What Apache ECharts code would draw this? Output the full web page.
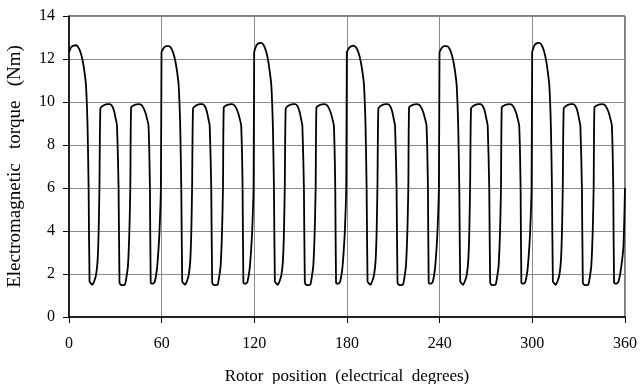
<!DOCTYPE html>
<html>
<head>
<meta charset="utf-8">
<script src="https://cdn.jsdelivr.net/npm/echarts@6/dist/echarts.min.js"></script>
<style>
html,body{margin:0;padding:0;background:#fff;}
#chart{width:643px;height:384px;}
</style>
</head>
<body>
<div id="chart"></div>
<script>
// Tick labels
const xTicks = [0, 60, 120, 180, 240, 300, 360];
const yTicks = [0, 2, 4, 6, 8, 10, 12, 14];
const xTitle = 'Rotor  position  (electrical  degrees)';
const yTitle = 'Electromagnetic   torque   (Nm)';

// Torque (Nm) vs rotor position (deg), one array per 60° span
const span0 = [[0,12.3],[0.4,12.4],[1.5,12.55],[3,12.62],[4.5,12.64],[6,12.55],[7.5,12.3],[8.8,11.94],[10,11.4],[11,10.78],[12,8.9],[12.7,6],[13.3,1.65],[14,1.58],[15.2,1.5],[16.5,1.7],[17.5,1.95],[18.5,2.6],[19.2,4],[19.7,6],[20.3,9.7],
[21.5,9.8],[23,9.87],[25,9.9],[26.5,9.9],[28,9.8],[29.3,9.55],[30.3,9.2],[31.1,8.9],[32.1,6],[32.7,1.6],[33.5,1.5],[35,1.48],[36.3,1.52],[37.3,1.9],[38.2,2.4],[39.1,4],[39.7,6],[40.2,9.75],
[41.5,9.83],[43,9.88],[45,9.9],[46.5,9.88],[48,9.75],[49.5,9.5],[50.6,9.2],[51.5,8.9],[52.4,6],[52.9,1.6],[53.7,1.55],[54.6,1.56],[55.6,1.65],[56.9,2.2],[57.8,3.0],[58.6,4],[59.5,6],[59.9,12.3]];
const span1 = [[60.4,12.4],[61.5,12.53],[63,12.6],[64.5,12.6],[66,12.52],[67.5,12.28],[68.8,11.92],[70,11.4],[71,10.78],[72,8.9],[72.7,6],[73.3,1.65],[74,1.58],[75.2,1.5],[76.5,1.7],[77.5,1.95],[78.5,2.6],[79.2,4],[79.7,6],[80.3,9.7],
[81.5,9.8],[83,9.87],[85,9.9],[86.5,9.9],[88,9.8],[89.3,9.55],[90.3,9.2],[91.1,8.9],[92.1,6],[92.7,1.6],[93.5,1.5],[95,1.48],[96.3,1.52],[97.3,1.9],[98.2,2.4],[99.1,4],[99.7,6],[100.2,9.75],
[101.5,9.83],[103,9.88],[105,9.9],[106.5,9.88],[108,9.75],[109.5,9.5],[110.6,9.2],[111.5,8.9],[112.4,6],[112.9,1.6],[113.7,1.55],[114.6,1.56],[115.6,1.65],[116.9,2.2],[117.8,3.0],[118.6,4],[119.5,6],[119.9,12.3]];
const span2 = [[120.4,12.45],[121.5,12.65],[123,12.74],[124.5,12.75],[126,12.65],[127.5,12.38],[128.8,11.98],[130,11.4],[131,10.78],[132,8.9],[132.7,6],[133.3,1.65],[134,1.58],[135.2,1.5],[136.5,1.7],[137.5,1.95],[138.5,2.6],[139.2,4],[139.7,6],[140.3,9.7],
[141.5,9.8],[143,9.87],[145,9.9],[146.5,9.9],[148,9.8],[149.3,9.55],[150.3,9.2],[151.1,8.9],[152.1,6],[152.7,1.6],[153.5,1.5],[155,1.48],[156.3,1.52],[157.3,1.9],[158.2,2.4],[159.1,4],[159.7,6],[160.2,9.75],
[161.5,9.83],[163,9.88],[165,9.9],[166.5,9.88],[168,9.75],[169.5,9.5],[170.6,9.2],[171.5,8.9],[172.4,6],[172.9,1.6],[173.7,1.55],[174.6,1.56],[175.6,1.65],[176.9,2.2],[177.8,3.0],[178.6,4],[179.5,6],[179.9,12.3]];
const span3 = [[180.4,12.4],[181.5,12.53],[183,12.6],[184.5,12.62],[186,12.52],[187.5,12.28],[188.8,11.92],[190,11.4],[191,10.78],[192,8.9],[192.7,6],[193.3,1.65],[194,1.58],[195.2,1.5],[196.5,1.7],[197.5,1.95],[198.5,2.6],[199.2,4],[199.7,6],[200.3,9.7],
[201.5,9.8],[203,9.87],[205,9.9],[206.5,9.9],[208,9.8],[209.3,9.55],[210.3,9.2],[211.1,8.9],[212.1,6],[212.7,1.6],[213.5,1.5],[215,1.48],[216.3,1.52],[217.3,1.9],[218.2,2.4],[219.1,4],[219.7,6],[220.2,9.75],
[221.5,9.83],[223,9.88],[225,9.9],[226.5,9.88],[228,9.75],[229.5,9.5],[230.6,9.2],[231.5,8.9],[232.4,6],[232.9,1.6],[233.7,1.55],[234.6,1.56],[235.6,1.65],[236.9,2.2],[237.8,3.0],[238.6,4],[239.5,6],[239.9,12.3]];
const span4 = [[240.4,12.4],[241.5,12.53],[243,12.6],[244.5,12.6],[246,12.52],[247.5,12.28],[248.8,11.92],[250,11.4],[251,10.78],[252,8.9],[252.7,6],[253.3,1.65],[254,1.58],[255.2,1.5],[256.5,1.7],[257.5,1.95],[258.5,2.6],[259.2,4],[259.7,6],[260.3,9.7],
[261.5,9.8],[263,9.87],[265,9.9],[266.5,9.9],[268,9.8],[269.3,9.55],[270.3,9.2],[271.1,8.9],[272.1,6],[272.7,1.6],[273.5,1.5],[275,1.48],[276.3,1.52],[277.3,1.9],[278.2,2.4],[279.1,4],[279.7,6],[280.2,9.75],
[281.5,9.83],[283,9.88],[285,9.9],[286.5,9.88],[288,9.75],[289.5,9.5],[290.6,9.2],[291.5,8.9],[292.4,6],[292.9,1.6],[293.7,1.55],[294.6,1.56],[295.6,1.65],[296.9,2.2],[297.8,3.0],[298.6,4],[299.5,6],[299.9,12.3]];
const span5 = [[300.4,12.45],[301.5,12.65],[303,12.74],[304.5,12.75],[306,12.65],[307.5,12.38],[308.8,11.98],[310,11.4],[311,10.78],[312,8.9],[312.7,6],[313.3,1.65],[314,1.58],[315.2,1.5],[316.5,1.7],[317.5,1.95],[318.5,2.6],[319.2,4],[319.7,6],[320.3,9.7],
[321.5,9.8],[323,9.87],[325,9.9],[326.5,9.9],[328,9.8],[329.3,9.55],[330.3,9.2],[331.1,8.9],[332.1,6],[332.7,1.6],[333.5,1.5],[335,1.48],[336.3,1.52],[337.3,1.9],[338.2,2.4],[339.1,4],[339.7,6],[340.2,9.75],
[341.5,9.83],[343,9.88],[345,9.9],[346.5,9.88],[348,9.75],[349.5,9.5],[350.6,9.2],[351.5,8.9],[352.4,6],[352.9,1.6],[353.7,1.55],[354.6,1.56],[355.8,1.65],[357.5,2.3],[359,3.3],[360,6]];

const torque = [].concat(span0, span1, span2, span3, span4, span5);

const FONT = '"Liberation Serif", "Times New Roman", serif';
const chart = echarts.init(document.getElementById('chart'), null, {renderer: 'canvas'});
chart.setOption({
  animation: false,
  backgroundColor: '#fff',
  grid: {left: 69, right: 18, top: 16, bottom: 67, outerBoundsMode: 'none', containLabel: false,
    show: true, borderColor: '#000', borderWidth: 1, backgroundColor: 'transparent'},
  xAxis: {
    type: 'value', min: xTicks[0], max: xTicks[xTicks.length - 1], interval: 60,
    name: xTitle, nameLocation: 'middle', nameGap: 51,
    nameTextStyle: {fontFamily: FONT, fontSize: 17, color: '#000'},
    axisLine: {show: true, lineStyle: {color: '#000', width: 1.5}},
    axisTick: {show: true, inside: false, length: 6, lineStyle: {color: '#000'}},
    axisLabel: {fontFamily: FONT, fontSize: 16, color: '#000', margin: 19},
    splitLine: {show: true, lineStyle: {color: '#8a8a8a', width: 1}}
  },
  yAxis: {
    type: 'value', min: yTicks[0], max: yTicks[yTicks.length - 1], interval: 2,
    name: yTitle, nameLocation: 'middle', nameGap: 44,
    nameTextStyle: {fontFamily: FONT, fontSize: 19, color: '#000'},
    axisLine: {show: true, lineStyle: {color: '#000', width: 1.5}},
    axisTick: {show: true, inside: false, length: 6, lineStyle: {color: '#000'}},
    axisLabel: {fontFamily: FONT, fontSize: 16, color: '#000', margin: 14},
    splitLine: {show: true, lineStyle: {color: '#8a8a8a', width: 1}}
  },
  series: [{
    type: 'line', data: torque, showSymbol: false, smooth: 0.2,
    lineStyle: {color: '#000', width: 1.8}, clip: true
  }]
});
</script>
</body>
</html>
